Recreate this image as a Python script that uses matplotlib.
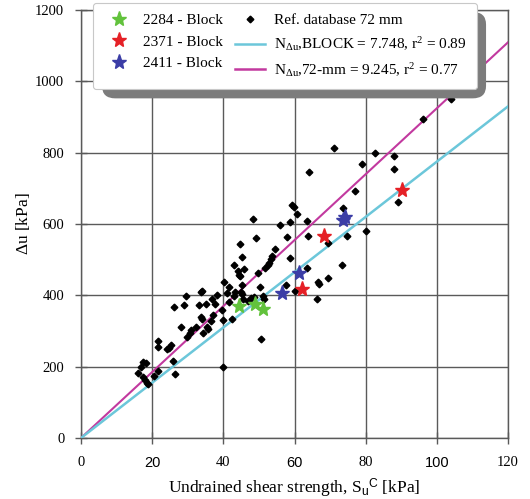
import matplotlib
matplotlib.use("Agg")
import matplotlib.pyplot as plt
from matplotlib.lines import Line2D
from matplotlib.patches import FancyBboxPatch
import numpy as np

plt.rcParams['font.family'] = ['Liberation Serif', 'DejaVu Serif']
plt.rcParams['mathtext.fontset'] = 'custom'
plt.rcParams['mathtext.rm'] = 'Liberation Serif'
plt.rcParams['mathtext.it'] = 'Liberation Serif:italic'
plt.rcParams['mathtext.sf'] = 'Liberation Sans'

# Reference database (72 mm samples): undrained shear strength vs. excess pore pressure
ref_su = [15.9, 16.9, 18.2, 17.5, 17.5, 18.0, 18.5, 18.9, 20.5, 21.5, 21.5, 21.7,
          24.3, 24.8, 25.3, 25.8, 26.4, 26.0, 28.0, 29.0, 29.5, 29.9, 30.9, 30.6,
          32.4, 33.1, 33.7, 34.0, 33.8, 34.1, 34.3, 35.0, 35.3, 35.6, 36.4, 36.7,
          37.7, 37.2, 38.1, 39.7, 39.8, 40.2, 40.0, 40.9, 41.5, 41.5, 42.3, 43.1,
          43.3, 43.0, 44.1, 44.3, 44.6, 44.8, 45.3, 45.2, 45.1, 45.3, 45.6, 45.9,
          47.0, 47.7, 48.2, 48.5, 49.2, 49.8, 50.4, 50.7, 51.1, 51.4, 51.8, 52.6,
          52.9, 53.3, 53.7, 54.6, 55.9, 57.9, 57.6, 58.7, 58.7, 59.4, 59.8, 60.6,
          60.1, 63.4, 63.7, 64.1, 63.6, 66.2, 66.5, 67.0, 69.5, 69.5, 71.2, 73.3,
          73.7, 74.7, 77.0, 79.0, 80.2, 82.5, 88.0, 88.0, 89.0, 96.0, 104.0]
ref_du = [183, 200, 209, 214, 172, 163, 155, 151, 174, 189, 254, 273,
          249, 252, 261, 217, 179, 366, 312, 374, 398, 284, 303, 294,
          312, 374, 409, 413, 340, 335, 295, 376, 312, 307, 329, 391,
          376, 345, 400, 359, 331, 436, 200, 406, 424, 381, 333, 484,
          409, 398, 467, 458, 544, 454, 507, 428, 408, 404, 389, 473,
          385, 392, 615, 395, 561, 464, 423, 278, 398, 389, 477, 485,
          490, 503, 510, 531, 596, 563, 428, 505, 607, 652, 647, 628,
          413, 609, 565, 746, 477, 391, 437, 432, 449, 546, 814, 484,
          645, 565, 693, 768, 581, 798, 792, 754, 661, 894, 950]

# Block samples
b2284_su = [44.3, 48.8, 51.2]
b2284_du = [371, 376, 361]
b2371_su = [62.0, 68.3, 90.1]
b2371_du = [418, 565, 694]
b2411_su = [56.6, 61.3, 73.5, 74.3]
b2411_du = [406, 464, 612, 620]

# Fitted cone factors
n_block = 7.748
n_72mm = 9.245

x_ticks = [0, 20, 40, 60, 80, 100, 120]
y_ticks = [0, 200, 400, 600, 800, 1000, 1200]

grid_col = '#5a5a5a'
cyan = '#6cc7da'
magenta = '#c2399f'

fig = plt.figure(figsize=(5.30, 4.99), dpi=100)
ax = fig.add_axes([81 / 530, 61 / 499, 427 / 530, 428 / 499])

ax.set_xlim(0, 120)
ax.set_ylim(0, 1200)
ax.set_xticks(x_ticks)
ax.set_yticks(y_ticks)
ax.grid(True, color=grid_col, linewidth=1.0)
ax.set_axisbelow(True)
for s in ax.spines.values():
    s.set_color(grid_col)
    s.set_linewidth(1.0)
ax.tick_params(direction='inout', length=8, width=1.0, color=grid_col,
               labelsize=10.5)
ax.tick_params(axis='x', pad=9)
ax.tick_params(axis='y', pad=8)

# alternate tick label faces along the x axis
for i, lab in enumerate(ax.get_xticklabels()):
    if i % 2 == 1:
        lab.set_fontfamily('Liberation Sans')

xs = np.array([0, 120])
ax.plot(xs, n_72mm * xs, color=magenta, lw=1.5, zorder=3)
ax.plot(xs, n_block * xs, color=cyan, lw=1.8, zorder=3)

ax.plot(ref_su, ref_du, ls='none', marker='D', ms=3.4, color='black', zorder=4)
ax.plot(b2284_su, b2284_du, ls='none', marker='*', ms=11, color='#62c23c', zorder=5)
ax.plot(b2371_su, b2371_du, ls='none', marker='*', ms=11, color='#e52026', zorder=5)
ax.plot(b2411_su, b2411_du, ls='none', marker='*', ms=11, color='#3b3da6', zorder=5)

ax.set_xlabel(r'Undrained shear strength, S$_{\mathsf{u}}$$^{\mathsf{C}}$ [kPa]',
              fontsize=12.5, labelpad=5)
ax.set_ylabel(r'$\mathrm{\Delta}$u [kPa]', fontsize=12.5, labelpad=2)

handles = [
    Line2D([], [], ls='none', marker='*', ms=11, color='#62c23c'),
    Line2D([], [], ls='none', marker='*', ms=11, color='#e52026'),
    Line2D([], [], ls='none', marker='*', ms=11, color='#3b3da6'),
    Line2D([], [], ls='none', marker='D', ms=3.4, color='black'),
    Line2D([], [], color=cyan, lw=1.8),
    Line2D([], [], color=magenta, lw=1.8),
]
labels = [
    '2284 - Block', '2371 - Block', '2411 - Block',
    'Ref. database 72 mm',
    r'N$_{\mathrm{\Delta u}}$,BLOCK = 7.748, r$^2$ = 0.89',
    r'N$_{\mathrm{\Delta u}}$,72-mm = 9.245, r$^2$ = 0.77',
]
leg = fig.legend(handles, labels, ncol=2, loc='upper left',
                 bbox_to_anchor=(93 / 530, 1 - 3 / 499), fontsize=11,
                 frameon=True, fancybox=True, handlelength=2.0,
                 handletextpad=0.55, columnspacing=0.8, labelspacing=0.5,
                 borderpad=0.7, borderaxespad=0)
frame = leg.get_frame()
frame.set_edgecolor('#c8c8c8')
frame.set_linewidth(0.8)
frame.set_facecolor('white')
frame.set_alpha(1.0)
leg.set_zorder(6)

# drop shadow behind the legend box
fig.canvas.draw()
bb = leg.get_window_extent().transformed(fig.transFigure.inverted())
off_x, off_y = 9 / 530, 9 / 499
shadow = FancyBboxPatch((bb.x0 + off_x, bb.y0 - off_y), bb.width, bb.height,
                        boxstyle='round,pad=0,rounding_size=0.025',
                        transform=fig.transFigure, facecolor='#7c7c7c',
                        edgecolor='none', zorder=5.5)
fig.add_artist(shadow)

fig.savefig('out.png', dpi=100)
